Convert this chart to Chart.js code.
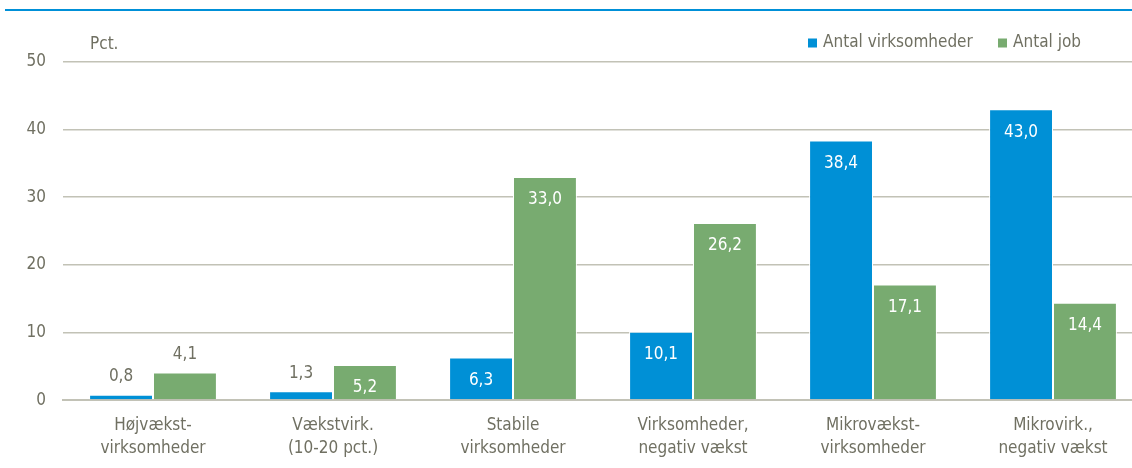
<!DOCTYPE html>
<html>
<head>
<meta charset="utf-8">
<script src="https://cdn.jsdelivr.net/npm/chart.js@4"></script>
<style>
  body { margin: 0; background: #fff; }
  #wrap { position: relative; width: 1132px; height: 468px; overflow: hidden; }
  #topline { position: absolute; left: 5px; right: 0; top: 9px; height: 2px; background: #0090d8; }
</style>
</head>
<body>
<div id="wrap">
  <div id="topline"></div>
  <canvas id="chart" width="1143" height="468"></canvas>
</div>
<script>
const categories = [
  ['Højvækst-', 'virksomheder'],
  ['Vækstvirk.', '(10-20 pct.)'],
  ['Stabile', 'virksomheder'],
  ['Virksomheder,', 'negativ vækst'],
  ['Mikrovækst-', 'virksomheder'],
  ['Mikrovirk.,', 'negativ vækst']
];
const antalVirksomheder = [0.8, 1.3, 6.3, 10.1, 38.4, 43.0];
const antalJob = [4.1, 5.2, 33.0, 26.2, 17.1, 14.4];
const yTicks = [0, 10, 20, 30, 40, 50];

const textColor = '#707062';
const fontFamily = '"DejaVu Sans Condensed", "Liberation Sans Narrow", "Liberation Sans", sans-serif';
const fontSize = 17;

// værdier på søjlerne
const valueLabels = {
  id: 'valueLabels',
  afterDatasetsDraw(chart) {
    const ctx = chart.ctx;
    ctx.save();
    ctx.font = fontSize + 'px ' + fontFamily;
    ctx.textAlign = 'center';
    ctx.textBaseline = 'middle';
    chart.data.datasets.forEach((ds, i) => {
      chart.getDatasetMeta(i).data.forEach((bar, j) => {
        const v = ds.data[j];
        const txt = v.toFixed(1).replace('.', ',');
        if (v > 5) {
          ctx.fillStyle = '#ffffff';
          ctx.fillText(txt, bar.x, bar.y + 23);
        } else {
          ctx.fillStyle = textColor;
          ctx.fillText(txt, bar.x, bar.y - 18);
        }
      });
    });
    ctx.restore();
  }
};

// "Pct." og signaturforklaring
const header = {
  id: 'header',
  afterDraw(chart) {
    const ctx = chart.ctx;
    ctx.save();
    ctx.font = fontSize + 'px ' + fontFamily;
    ctx.fillStyle = textColor;
    ctx.textAlign = 'left';
    ctx.textBaseline = 'middle';
    ctx.fillText('Pct.', 90, 45);

    const y = 43;
    const starts = [808, 998];
    chart.data.datasets.forEach((ds, i) => {
      const x = starts[i];
      ctx.fillStyle = ds.backgroundColor;
      ctx.fillRect(x, y - 4.5, 9, 9);
      ctx.fillStyle = textColor;
      ctx.fillText(ds.label, x + 15, y);
    });
    ctx.restore();
  }
};

new Chart(document.getElementById('chart').getContext('2d'), {
  type: 'bar',
  data: {
    labels: categories,
    datasets: [
      {
        label: 'Antal virksomheder',
        data: antalVirksomheder,
        backgroundColor: '#0090d6',
        borderColor: '#ffffff',
        borderWidth: 1
      },
      {
        label: 'Antal job',
        data: antalJob,
        backgroundColor: '#78ab70',
        borderColor: '#ffffff',
        borderWidth: 1
      }
    ]
  },
  options: {
    responsive: false,
    animation: false,
    layout: { padding: { top: 62, right: 0, left: 0, bottom: 2 } },
    datasets: { bar: { categoryPercentage: 0.71, barPercentage: 1.0 } },
    plugins: {
      legend: { display: false },
      tooltip: { enabled: false }
    },
    scales: {
      x: {
        grid: { display: false },
        border: { display: true, color: '#c2c2b6', width: 2 },
        ticks: {
          color: textColor,
          font: { family: fontFamily, size: fontSize, lineHeight: 1.35 },
          padding: 6,
          maxRotation: 0
        }
      },
      y: {
        min: 0,
        max: 50,
        afterFit(scale) { scale.width = 63; },
        afterBuildTicks(scale) { scale.ticks = yTicks.map(v => ({ value: v })); },
        grid: { color: '#c2c2b6', lineWidth: 1.5, drawTicks: false },
        border: { display: false },
        ticks: {
          color: textColor,
          font: { family: fontFamily, size: fontSize },
          padding: 17
        }
      }
    }
  },
  plugins: [valueLabels, header]
});
</script>
</body>
</html>
